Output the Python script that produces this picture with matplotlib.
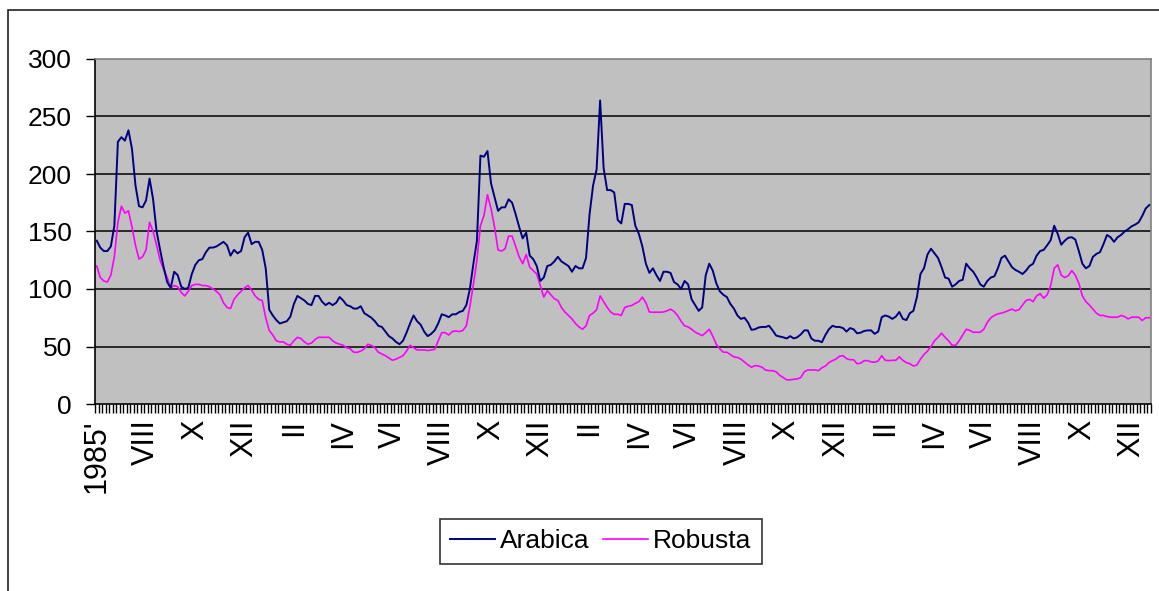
import numpy as np
import matplotlib
matplotlib.use("Agg")
import matplotlib.pyplot as plt
from matplotlib.patches import Rectangle

plt.rcParams['font.family'] = ['Liberation Sans', 'DejaVu Sans']

# monthly prices, 300 months
arabica = [
    142, 136, 133, 133, 137, 155, 228, 232, 229, 238,
    222, 190, 172, 171, 177, 196, 178, 150, 134, 119,
    106, 101, 115, 112, 102, 100, 101, 113, 121, 125,
    126, 132, 136, 136, 137, 139, 141, 138, 129, 134,
    131, 133, 145, 149, 139, 141, 141, 134, 118, 82,
    77, 73, 70, 71, 72, 76, 87, 94, 92, 90,
    87, 86, 94, 94, 89, 86, 88, 86, 88, 93,
    90, 86, 85, 83, 83, 85, 79, 77, 75, 72,
    68, 67, 63, 59, 57, 54, 52, 55, 62, 70,
    77, 72, 69, 63, 59, 61, 64, 70, 78, 77,
    75.5, 78, 78, 80, 81, 86, 100, 122, 142, 216,
    215, 220, 192, 180, 168, 171, 171, 178, 175, 165,
    154, 144, 149, 129, 126, 120, 107, 110, 120, 121,
    124, 128, 124, 122, 120, 115, 120, 118, 118, 127,
    165, 190, 204, 264, 205, 186, 186, 184, 160, 157,
    174, 174, 173, 155, 148, 137, 122, 114, 118, 112,
    107, 115, 115, 114, 106, 104, 100, 107, 104, 91,
    86, 81, 84, 112, 122, 116, 105, 98, 95, 93,
    87, 83, 77, 74, 75, 71, 64.5, 65, 66.5, 67,
    67, 68, 64, 59.5, 58.7, 58, 57, 59, 57, 58,
    60.5, 64, 64, 57, 55, 55, 53.7, 60, 65, 68,
    67, 67, 66, 63, 66, 65, 61.5, 62, 63.5, 64,
    64, 61, 63, 75.5, 77, 76, 74, 76, 80, 74,
    73, 79, 81, 93, 113, 118, 130, 135, 131, 127,
    119, 110, 109, 102, 104, 107, 108, 122, 118, 115,
    110, 104, 102, 107, 110, 111, 118, 127, 129, 124,
    119, 116.5, 115, 113, 116, 120, 122, 129, 133, 134,
    138, 142.5, 155, 148, 138.5, 142, 144.6, 145, 143, 133,
    122, 118, 120, 128, 130.5, 132, 139, 147, 145, 141,
    145, 147, 150, 152, 154.5, 156, 158, 163.5, 170, 173,
]
robusta = [
    120, 110, 107, 106, 112, 128, 158, 172, 166, 168,
    154, 138, 126, 128, 134, 158, 150, 138, 125, 117,
    110, 101, 103, 102, 97, 94, 98, 103, 104, 104,
    103, 103, 102, 100, 98, 95, 88, 84, 83, 91,
    95, 98, 101, 103, 99, 94, 91, 90, 75, 64,
    60, 55, 54, 54, 52, 51, 55, 58, 57, 54,
    52, 53, 56, 58, 58, 58, 58, 55, 53, 52,
    51, 49, 48, 45, 45, 46, 48, 52, 51, 49,
    45, 43.5, 42, 40, 38, 39, 40.5, 42, 46, 51,
    49, 47, 47, 47, 46.5, 47, 47.5, 55, 62, 62,
    60, 63, 63.5, 63, 64, 68, 85, 104, 125, 155,
    164, 182, 170, 154, 134, 133, 135, 146, 146, 137,
    128, 122, 130, 119, 116, 113, 103, 93, 98.5, 95,
    91.5, 90, 84, 80, 77, 74, 70, 67, 65, 68,
    77, 79, 82, 94, 89, 84, 80, 78, 78, 77,
    84, 85, 85.7, 87.5, 89, 93, 88, 80, 79.8, 79.8,
    79.8, 80, 81, 82.5, 80.5, 77, 72, 68, 67, 65,
    62.5, 61, 59.5, 62, 65, 59, 52, 48, 45, 45,
    43, 41, 40.5, 39, 36.5, 34, 32, 33.4, 33, 32,
    29.5, 29, 29, 28, 25, 23, 21, 21, 21.5, 21.8,
    23, 28, 29.6, 29.6, 29.6, 29, 31.5, 33, 36, 37.7,
    39, 41.5, 42, 39.5, 38.5, 38.5, 35, 35.5, 37.7, 37.7,
    36.5, 36.3, 37.5, 42, 38, 37.7, 38, 38, 41, 38,
    36, 35, 33, 34, 39, 43, 46, 50, 55, 58,
    61.6, 58, 55, 51, 51, 55, 60, 65, 64, 62.4,
    62.4, 62.4, 65, 71, 75, 77, 78.4, 79, 80, 81.3,
    82.5, 81, 82, 86, 90, 91, 89, 94, 96, 92,
    95, 103, 118, 121, 112, 110, 111.5, 116, 112, 105,
    94, 89, 86, 82.5, 79, 77, 77, 76, 75.5, 75.5,
    75.5, 77, 76, 74, 75.5, 75.5, 75.5, 72.6, 75, 75,
]
tick_labels = ["1985'", "VIII", "X", "XII", "II", "IV", "VI", "VIII", "X", "XII", "II",
               "IV", "VI", "VIII", "X", "XII", "II", "IV", "VI", "VIII", "X", "XII"]
label_step = 14
y_ticks = [0, 50, 100, 150, 200, 250, 300]

n = len(arabica)
x = np.arange(n) + 0.5

fig = plt.figure(figsize=(11.59, 5.91), dpi=100)
W, H = 1159, 591
ax = fig.add_axes([95 / W, 1 - 404 / H, (1151 - 95) / W, (404 - 59) / H])
ax.set_facecolor('#C0C0C0')

# outer chart border (only left and top edges fall inside the image)
fig.patches.append(Rectangle((8 / W, -0.1), 1.1, 1 - 10 / H + 0.1, transform=fig.transFigure,
                             fill=False, edgecolor='#202020', linewidth=1.2))

for v in y_ticks[1:-1]:
    ax.axhline(v, color='black', linewidth=1.1, zorder=1)

ax.plot(x, arabica, color='#000080', linewidth=1.4, label='Arabica', zorder=3)
ax.plot(x, robusta, color='#FF00FF', linewidth=1.2, label='Robusta', zorder=2)

ax.set_xlim(0, n)
ax.set_ylim(0, 300)
ax.set_yticks(y_ticks)
ax.tick_params(axis='y', direction='out', length=6.5, width=1, pad=10, labelsize=19)

ax.set_xticks(np.arange(0, n + 1))
ax.set_xticklabels([])
ax.tick_params(axis='x', which='major', direction='out', length=6.5, width=1.0, color='black')
ax.set_xticks(x[::label_step], minor=True)
ax.set_xticklabels(tick_labels, minor=True, rotation=90, fontsize=22)
ax.tick_params(axis='x', which='minor', length=0, pad=11)

for s in ['left', 'bottom']:
    ax.spines[s].set_color('black')
    ax.spines[s].set_linewidth(1.2)
for s in ['top', 'right']:
    ax.spines[s].set_color('#808080')
    ax.spines[s].set_linewidth(1.2)

leg = fig.legend(loc='center', bbox_to_anchor=(601 / W, 1 - 541.5 / H), ncol=2,
                 fontsize=19, frameon=True, fancybox=False, edgecolor='black',
                 handlelength=1.7, handletextpad=0.2, columnspacing=0.5,
                 borderpad=0.4)
leg.get_frame().set_linewidth(1.2)

fig.savefig('out.png', dpi=100)
